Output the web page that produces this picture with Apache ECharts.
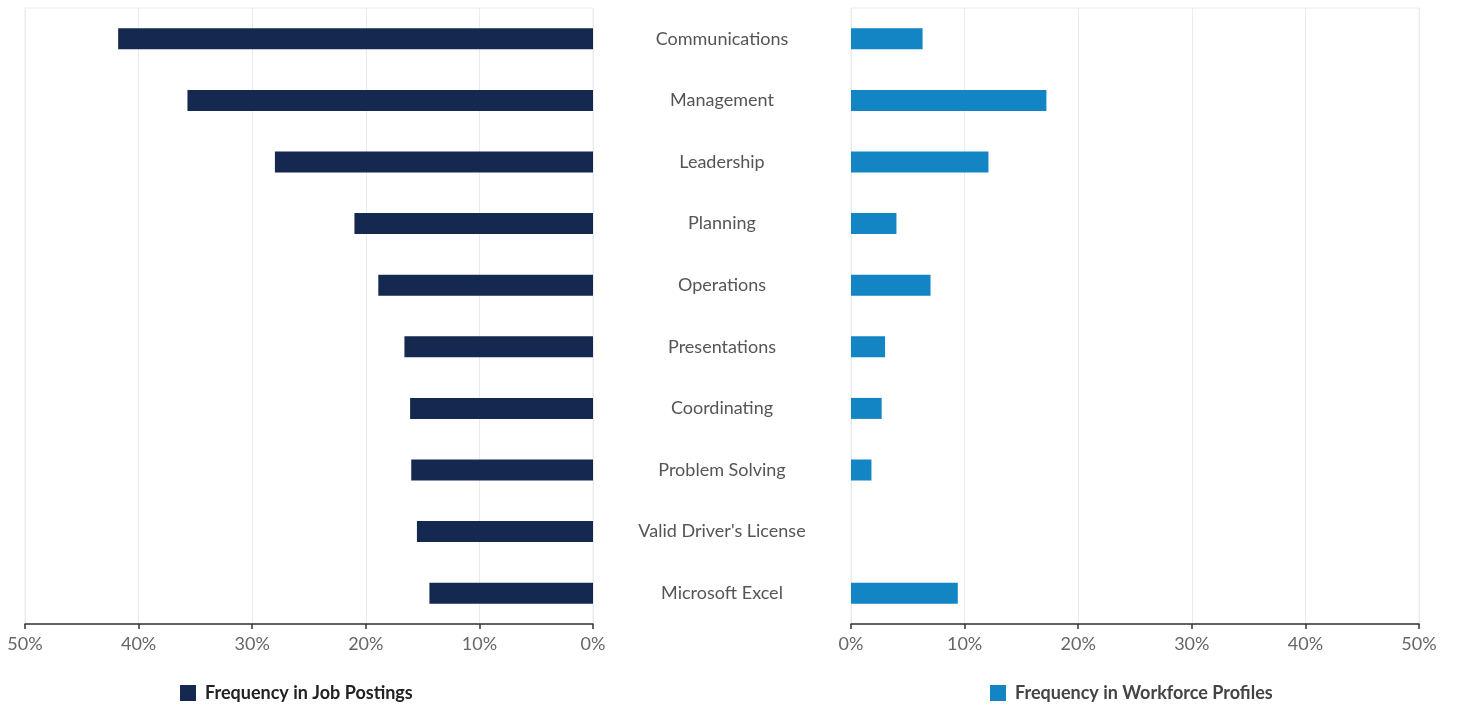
<!DOCTYPE html>
<html>
<head>
<meta charset="utf-8">
<script src="https://cdn.jsdelivr.net/npm/echarts@6/dist/echarts.min.js"></script>
<style>
  html, body { margin: 0; padding: 0; background: #fff; }
  #chart { width: 1458px; height: 709px; }
</style>
</head>
<body>
<div id="chart"></div>
<script>
// skill names, top to bottom
const skills = ['Communications', 'Management', 'Leadership', 'Planning', 'Operations',
  'Presentations', 'Coordinating', 'Problem Solving', "Valid Driver's License", 'Microsoft Excel'];
// percent values
const jobPostings = [41.8, 35.7, 28.0, 21.0, 18.9, 16.6, 16.1, 16.0, 15.5, 14.4];
const workforceProfiles = [6.3, 17.2, 12.1, 4.0, 7.0, 3.0, 2.7, 1.8, 0, 9.4];

const navy = '#15284f';
const blue = '#1385c4';
const font = 'Lato, "Open Sans", sans-serif';

const chart = echarts.init(document.getElementById('chart'));

const xAxisBase = {
  type: 'value',
  min: 0,
  max: 50,
  interval: 10,
  axisLine: { show: true, lineStyle: { color: '#333', width: 1.5 } },
  axisTick: { show: true, length: 5, lineStyle: { color: '#333', width: 1.5 } },
  axisLabel: { formatter: '{value}%', color: '#666', fontSize: 18, fontFamily: font, margin: 11 },
  splitLine: { show: true, lineStyle: { color: '#ebebeb' } }
};

chart.setOption({
  textStyle: { fontFamily: font },
  animation: false,
  grid: [
    { left: 25, right: 865, top: 8, bottom: 85, show: true, borderColor: '#ebebeb', borderWidth: 1 },
    { left: 851, right: 39, top: 8, bottom: 85, show: true, borderColor: '#ebebeb', borderWidth: 1 }
  ],
  legend: [
    {
      data: ['Frequency in Job Postings'],
      left: 175, bottom: 2,
      icon: 'rect', itemWidth: 16, itemHeight: 16, itemGap: 8,
      textStyle: { fontSize: 18, fontWeight: 'bold', color: '#222', fontFamily: font, padding: [0, 0, 0, 4] }
    },
    {
      data: ['Frequency in Workforce Profiles'],
      left: 985, bottom: 2,
      icon: 'rect', itemWidth: 16, itemHeight: 16, itemGap: 8,
      textStyle: { fontSize: 18, fontWeight: 'bold', color: '#444', fontFamily: font, padding: [0, 0, 0, 4] }
    }
  ],
  xAxis: [
    Object.assign({ gridIndex: 0, inverse: true }, xAxisBase),
    Object.assign({ gridIndex: 1 }, xAxisBase)
  ],
  yAxis: [
    {
      type: 'category', gridIndex: 0, data: skills, inverse: true,
      axisLine: { show: false }, axisTick: { show: false }, axisLabel: { show: false }
    },
    {
      type: 'category', gridIndex: 1, data: skills, inverse: true,
      axisLine: { show: false }, axisTick: { show: false },
      axisLabel: { align: 'center', margin: 129, color: '#555', fontSize: 18, fontFamily: font }
    }
  ],
  series: [
    {
      name: 'Frequency in Job Postings', type: 'bar',
      xAxisIndex: 0, yAxisIndex: 0, data: jobPostings,
      barWidth: 21, itemStyle: { color: navy }
    },
    {
      name: 'Frequency in Workforce Profiles', type: 'bar',
      xAxisIndex: 1, yAxisIndex: 1, data: workforceProfiles,
      barWidth: 21, itemStyle: { color: blue }
    }
  ]
});
</script>
</body>
</html>
